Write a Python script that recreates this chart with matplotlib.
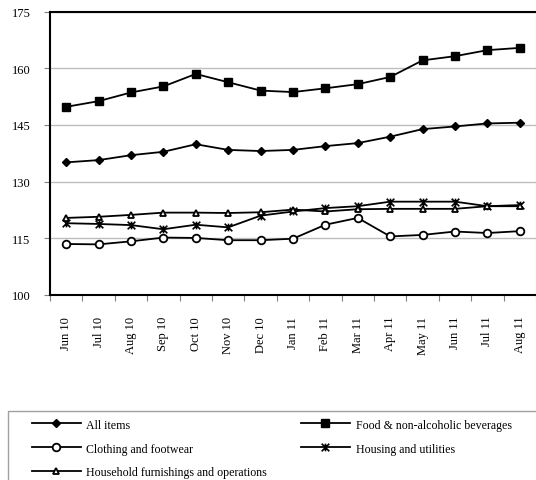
# consumer price indices, Jun 10 - Aug 11
import matplotlib
matplotlib.use("Agg")
import matplotlib.pyplot as plt
from matplotlib.path import Path
from matplotlib.patches import Rectangle
import numpy as np

months = ["Jun 10", "Jul 10", "Aug 10", "Sep 10", "Oct 10", "Nov 10", "Dec 10", "Jan 11",
          "Feb 11", "Mar 11", "Apr 11", "May 11", "Jun 11", "Jul 11", "Aug 11"]

all_items = [135.1, 135.7, 137.0, 137.9, 139.9, 138.4, 138.1, 138.4,
             139.4, 140.2, 141.9, 143.9, 144.6, 145.4, 145.6]
food = [149.8, 151.3, 153.6, 155.2, 158.5, 156.3, 154.1, 153.7,
        154.7, 155.8, 157.7, 162.1, 163.2, 164.8, 165.4]
clothing = [113.5, 113.4, 114.2, 115.2, 115.1, 114.5, 114.5, 114.9,
            118.6, 120.4, 115.5, 115.9, 116.8, 116.4, 116.9]
housing = [119.0, 118.8, 118.5, 117.4, 118.6, 117.9, 121.0, 122.1,
           123.0, 123.5, 124.7, 124.7, 124.7, 123.5, 123.8]
household = [120.4, 120.7, 121.2, 121.8, 121.8, 121.7, 121.9, 122.6,
             122.1, 122.7, 122.8, 122.8, 122.8, 123.5, 123.5]

labels = ["All items", "Food & non-alcoholic beverages", "Clothing and footwear",
          "Housing and utilities", "Household furnishings and operations"]

plt.rcParams["font.family"] = ["Liberation Serif", "DejaVu Serif"]

# excel-like star marker: x plus a vertical bar
star = Path([(-1, -1), (1, 1), (-1, 1), (1, -1), (0, -1), (0, 1)],
            [Path.MOVETO, Path.LINETO, Path.MOVETO, Path.LINETO, Path.MOVETO, Path.LINETO])

fig = plt.figure(figsize=(5.36, 4.81), dpi=100)
ax = fig.add_axes([50 / 536, 1 - 296 / 481, 486 / 536, (296 - 12.6) / 481])

x = np.arange(len(months))
lw = 1.3
ax.plot(x, all_items, color="black", lw=lw, marker="D", ms=4.5, label=labels[0])
ax.plot(x, food, color="black", lw=lw, marker="s", ms=6, label=labels[1])
ax.plot(x, clothing, color="black", lw=lw, marker="o", ms=5.5, mfc="white", mew=1.3, label=labels[2])
ax.plot(x, housing, color="black", lw=lw, marker=star, ms=5.5, mew=1.2, label=labels[3])
ax.plot(x, household, color="black", lw=lw, marker="^", ms=5, mfc="white", mew=1.3, label=labels[4])

ax.set_xlim(-0.5, len(months) - 0.5)
ax.set_ylim(100, 175)
ax.set_yticks([100, 115, 130, 145, 160, 175])
ax.yaxis.grid(True, color="#bdbdbd", lw=1)
ax.set_axisbelow(True)

ax.set_xticks(np.arange(len(months) + 1) - 0.5)
ax.set_xticklabels([])
ax.set_xticks(x, months, minor=True, rotation=90)
ax.tick_params(axis="x", which="major", length=4.5, color="#808080", direction="out")
ax.tick_params(axis="x", which="minor", length=0, pad=15, labelsize=9)
ax.tick_params(axis="y", length=4, color="#808080", pad=10, labelsize=9)

for side in ["left", "bottom"]:
    ax.spines[side].set_linewidth(1.5)
ax.spines["top"].set_linewidth(1.5)
ax.spines["right"].set_color("#bdbdbd")

# legend box runs off the right and bottom edges
fig.patches.append(Rectangle((8 / 536, -0.1), 1.0, 0.1 + (481 - 411.7) / 481,
                             transform=fig.transFigure, fill=False, edgecolor="#a0a0a0", lw=1))
handles, labs = ax.get_legend_handles_labels()
order = [0, 2, 4, 1, 3]  # row-wise reading like the original
fig.legend([handles[i] for i in order], [labs[i] for i in order], ncol=2, frameon=False,
           loc="upper left", bbox_to_anchor=(22 / 536, 1 - 410 / 481), fontsize=8.6,
           handlelength=4.1, handletextpad=0.5, columnspacing=2.8, labelspacing=1.0,
           borderpad=0.3)

fig.savefig("out.png", dpi=100)
